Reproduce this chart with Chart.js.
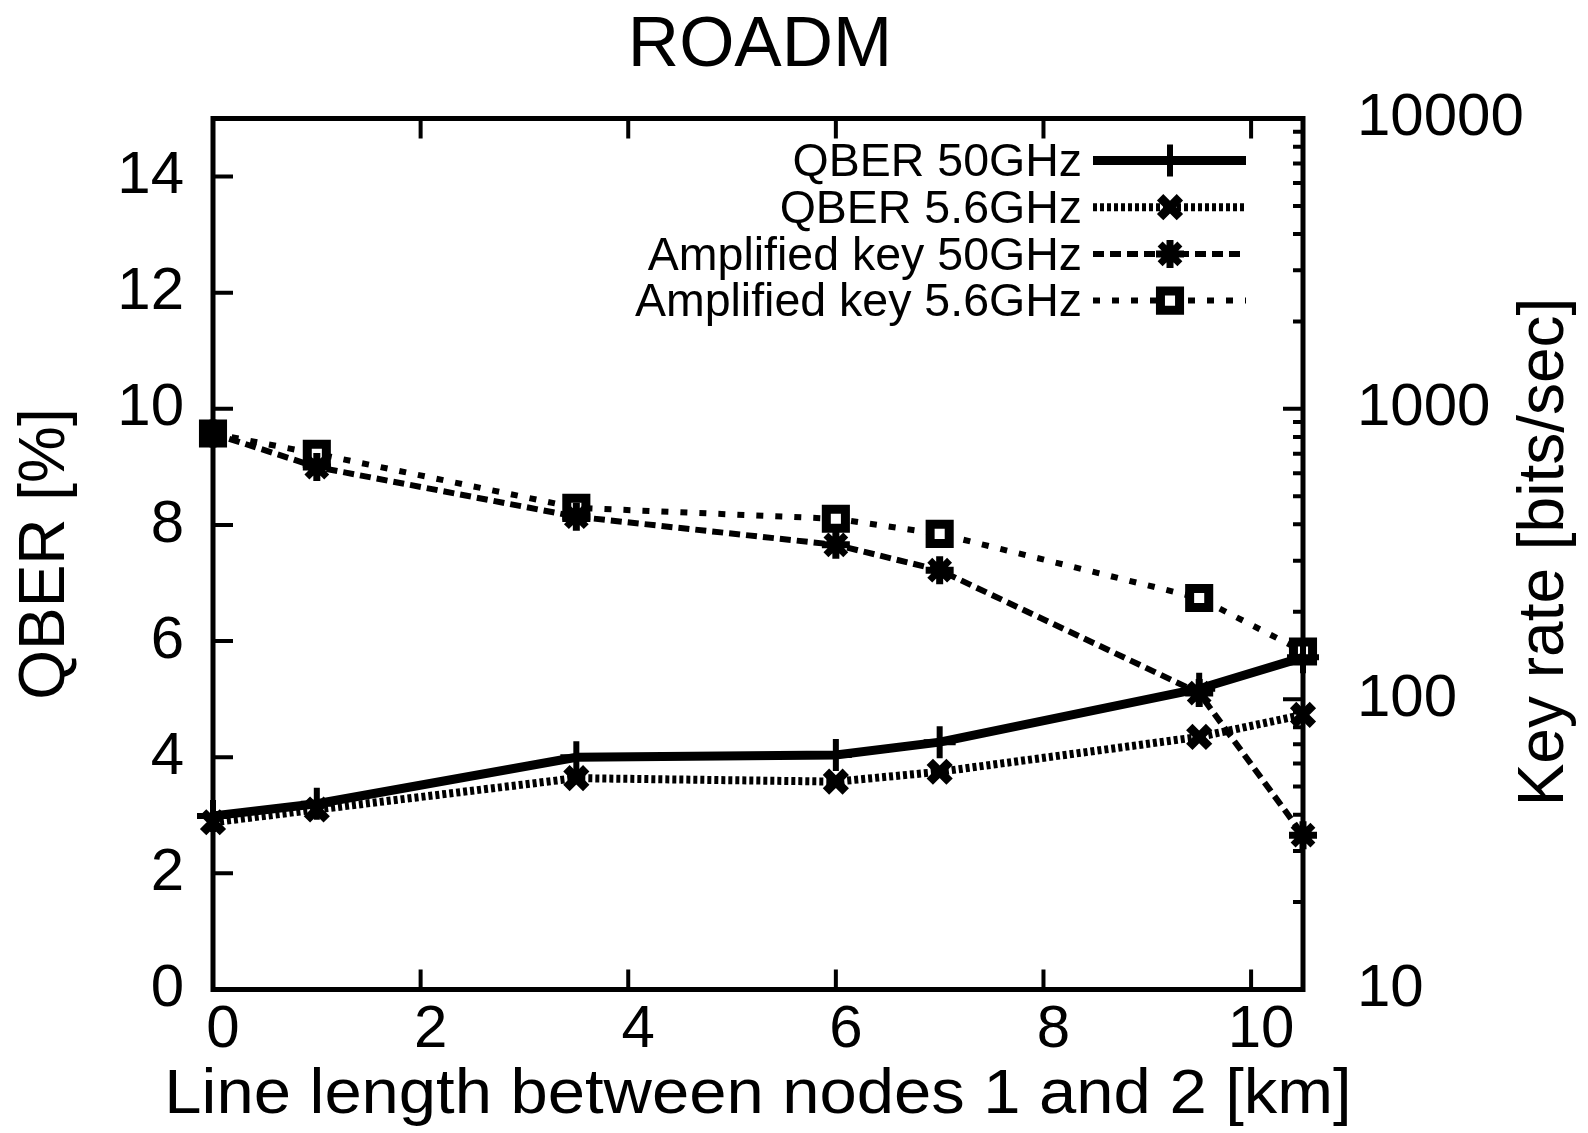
<!DOCTYPE html>
<html>
<head>
<meta charset="utf-8">
<title>ROADM</title>
<script src="https://cdn.jsdelivr.net/npm/chart.js@4.4.1/dist/chart.umd.min.js"></script>
<style>
    html, body { margin: 0; padding: 0; background: #fff; }
    #wrap { width: 1588px; height: 1133px; }
</style>
</head>
<body>
<div id="wrap"><canvas id="roadmChart"></canvas></div>
<script>
// Line length between nodes 1 and 2 [km]
const lineLength = [0, 1, 3.5, 6, 7, 9.5, 10.5];

// QBER [%] - left axis
const qber50 = [2.99, 3.2, 4.0, 4.04, 4.26, 5.18, 5.72];
const qber56 = [2.88, 3.1, 3.64, 3.58, 3.75, 4.35, 4.73];

// Key rate [bits/sec] - right axis (log)
const key50 = [822, 630, 425, 340, 278, 105, 34];
const key56 = [822, 700, 456, 418, 371, 223, 146];

// tick labels
const lengthTicks = [0, 2, 4, 6, 8, 10];
const qberTicks = [0, 2, 4, 6, 8, 10, 12, 14];
const keyRateTicks = [10, 100, 1000, 10000];

const FAMILY = "'Liberation Sans', Arial, Helvetica, sans-serif";

function points(ys) {
    return lineLength.map((x, i) => ({ x: x, y: ys[i] }));
}

function fixTicks(list) {
    return function(scale) {
        scale.ticks = list.map(v => ({ value: v }));
    };
}

/**
 * Gnuplot style frame with inward ticks
 */
const framePlugin = {
    id: 'frame',
    beforeDatasetsDraw(chart) {
        const { ctx, chartArea: a, scales } = chart;
        ctx.save();
        ctx.strokeStyle = '#000';
        ctx.lineWidth = 4;
        ctx.beginPath();
        lengthTicks.forEach(v => {
            const px = scales.x.getPixelForValue(v);
            ctx.moveTo(px, a.bottom); ctx.lineTo(px, a.bottom - 20);
            ctx.moveTo(px, a.top); ctx.lineTo(px, a.top + 20);
        });
        qberTicks.forEach(v => {
            const py = scales.y.getPixelForValue(v);
            ctx.moveTo(a.left, py); ctx.lineTo(a.left + 20, py);
        });
        keyRateTicks.forEach((dec, d) => {
            const py = scales.y1.getPixelForValue(dec);
            ctx.moveTo(a.right, py); ctx.lineTo(a.right - 20, py);
            if (d < keyRateTicks.length - 1) {
                for (let m = 2; m < 10; m++) {
                    const pm = scales.y1.getPixelForValue(dec * m);
                    ctx.moveTo(a.right, pm); ctx.lineTo(a.right - 10, pm);
                }
            }
        });
        ctx.stroke();
        ctx.lineWidth = 5;
        ctx.strokeRect(a.left, a.top, a.right - a.left, a.bottom - a.top);
        ctx.restore();
    }
};

/**
 * Key box: label right aligned, sample line on the right
 */
const keyPlugin = {
    id: 'gnuKey',
    afterDatasetsDraw(chart) {
        const { ctx, chartArea: a } = chart;
        ctx.save();
        ctx.font = '46.5px ' + FAMILY;
        ctx.textAlign = 'right';
        ctx.textBaseline = 'middle';
        chart.data.datasets.forEach((ds, i) => {
            const y = a.top + 42 + i * 46.7;
            ctx.fillStyle = '#000';
            ctx.fillText(ds.label, a.left + 869, y + 3);
            ctx.strokeStyle = '#000';
            ctx.lineWidth = ds.borderWidth;
            ctx.setLineDash(ds.borderDash);
            ctx.beginPath();
            ctx.moveTo(a.left + 880, y);
            ctx.lineTo(a.left + 1033, y);
            ctx.stroke();
            ctx.setLineDash([]);
            ctx.lineWidth = ds.pointBorderWidth;
            ctx.fillStyle = ds.pointBackgroundColor;
            Chart.helpers.drawPoint(ctx, {
                pointStyle: ds.pointStyle,
                radius: ds.pointRadius,
                borderWidth: ds.pointBorderWidth,
                rotation: 0
            }, a.left + 957, y);
        });
        ctx.restore();
    }
};

/**
 * Title, x axis title and right axis title
 */
const textPlugin = {
    id: 'texts',
    afterDraw(chart) {
        const { ctx, chartArea: a } = chart;
        const cx = (a.left + a.right) / 2;
        ctx.save();
        ctx.fillStyle = '#000';
        ctx.textAlign = 'center';
        ctx.textBaseline = 'middle';

        ctx.font = '71px ' + FAMILY;
        ctx.fillText('ROADM', cx + 2, 46);

        ctx.save();
        ctx.translate(cx, 1096);
        ctx.scale(1.03, 0.96);
        ctx.font = '65px ' + FAMILY;
        ctx.fillText('Line length between nodes 1 and 2 [km]', 0, 0);
        ctx.restore();

        ctx.translate(1545, (a.top + a.bottom) / 2 - 2);
        ctx.rotate(-Math.PI / 2);
        ctx.font = '64px ' + FAMILY;
        ctx.fillText('Key rate [bits/sec]', 0, 0);
        ctx.restore();
    }
};

document.addEventListener('DOMContentLoaded', function() {
    const ctx = document.getElementById('roadmChart');

    new Chart(ctx, {
        type: 'line',
        data: {
            datasets: [
                {
                    label: 'QBER 50GHz',
                    data: points(qber50),
                    yAxisID: 'y',
                    borderColor: '#000',
                    borderWidth: 9,
                    borderDash: [],
                    pointStyle: 'cross',
                    pointRadius: 16,
                    pointBorderWidth: 6,
                    pointBorderColor: '#000',
                    pointBackgroundColor: '#000',
                    clip: false
                },
                {
                    label: 'QBER 5.6GHz',
                    data: points(qber56),
                    yAxisID: 'y',
                    borderColor: '#000',
                    borderWidth: 8,
                    borderDash: [4, 3],
                    pointStyle: 'crossRot',
                    pointRadius: 14,
                    pointBorderWidth: 9,
                    pointBorderColor: '#000',
                    pointBackgroundColor: '#000',
                    clip: false
                },
                {
                    label: 'Amplified key 50GHz',
                    data: points(key50),
                    yAxisID: 'y1',
                    borderColor: '#000',
                    borderWidth: 6,
                    borderDash: [11, 6],
                    pointStyle: 'star',
                    pointRadius: 14,
                    pointBorderWidth: 7,
                    pointBorderColor: '#000',
                    pointBackgroundColor: '#000',
                    clip: false
                },
                {
                    label: 'Amplified key 5.6GHz',
                    data: points(key56),
                    yAxisID: 'y1',
                    borderColor: '#000',
                    borderWidth: 6,
                    borderDash: [7, 12],
                    pointStyle: 'rect',
                    pointRadius: 13.5,
                    pointBorderWidth: 9,
                    pointBorderColor: '#000',
                    pointBackgroundColor: '#fff',
                    clip: false
                }
            ]
        },
        options: {
            responsive: true,
            maintainAspectRatio: false,
            animation: false,
            events: [],
            layout: { padding: { top: 118.5, left: 0, right: 0, bottom: 0 } },
            plugins: {
                legend: { display: false },
                tooltip: { enabled: false },
                title: { display: false }
            },
            scales: {
                x: {
                    type: 'linear',
                    position: 'bottom',
                    min: 0,
                    max: 10.5,
                    grid: { display: false, drawTicks: false },
                    border: { display: false },
                    afterBuildTicks: fixTicks(lengthTicks),
                    afterFit: function(scale) { scale.height = 143.5; },
                    ticks: {
                        color: '#000',
                        font: { family: FAMILY, size: 60 },
                        padding: 5,
                        labelOffset: 10,
                        autoSkip: false,
                        maxRotation: 0,
                        callback: v => String(v)
                    },
                    title: { display: false }
                },
                y: {
                    type: 'linear',
                    position: 'left',
                    min: 0,
                    max: 15,
                    grid: { display: false, drawTicks: false },
                    border: { display: false },
                    afterBuildTicks: fixTicks(qberTicks),
                    afterFit: function(scale) { scale.width = 213; },
                    ticks: {
                        color: '#000',
                        font: { family: FAMILY, size: 60 },
                        padding: 29,
                        autoSkip: false,
                        callback: v => String(v)
                    },
                    title: {
                        display: true,
                        text: 'QBER [%]',
                        color: '#000',
                        font: { family: FAMILY, size: 64, lineHeight: 1.2 },
                        padding: { top: 8, bottom: 0 }
                    }
                },
                y1: {
                    type: 'logarithmic',
                    position: 'right',
                    min: 10,
                    max: 10000,
                    grid: { display: false, drawTicks: false },
                    border: { display: false },
                    afterBuildTicks: fixTicks(keyRateTicks),
                    afterFit: function(scale) { scale.width = 285; },
                    ticks: {
                        color: '#000',
                        font: { family: FAMILY, size: 60 },
                        padding: 54,
                        autoSkip: false,
                        callback: v => String(v)
                    },
                    title: { display: false }
                }
            }
        },
        plugins: [framePlugin, keyPlugin, textPlugin]
    });
});
</script>
</body>
</html>
